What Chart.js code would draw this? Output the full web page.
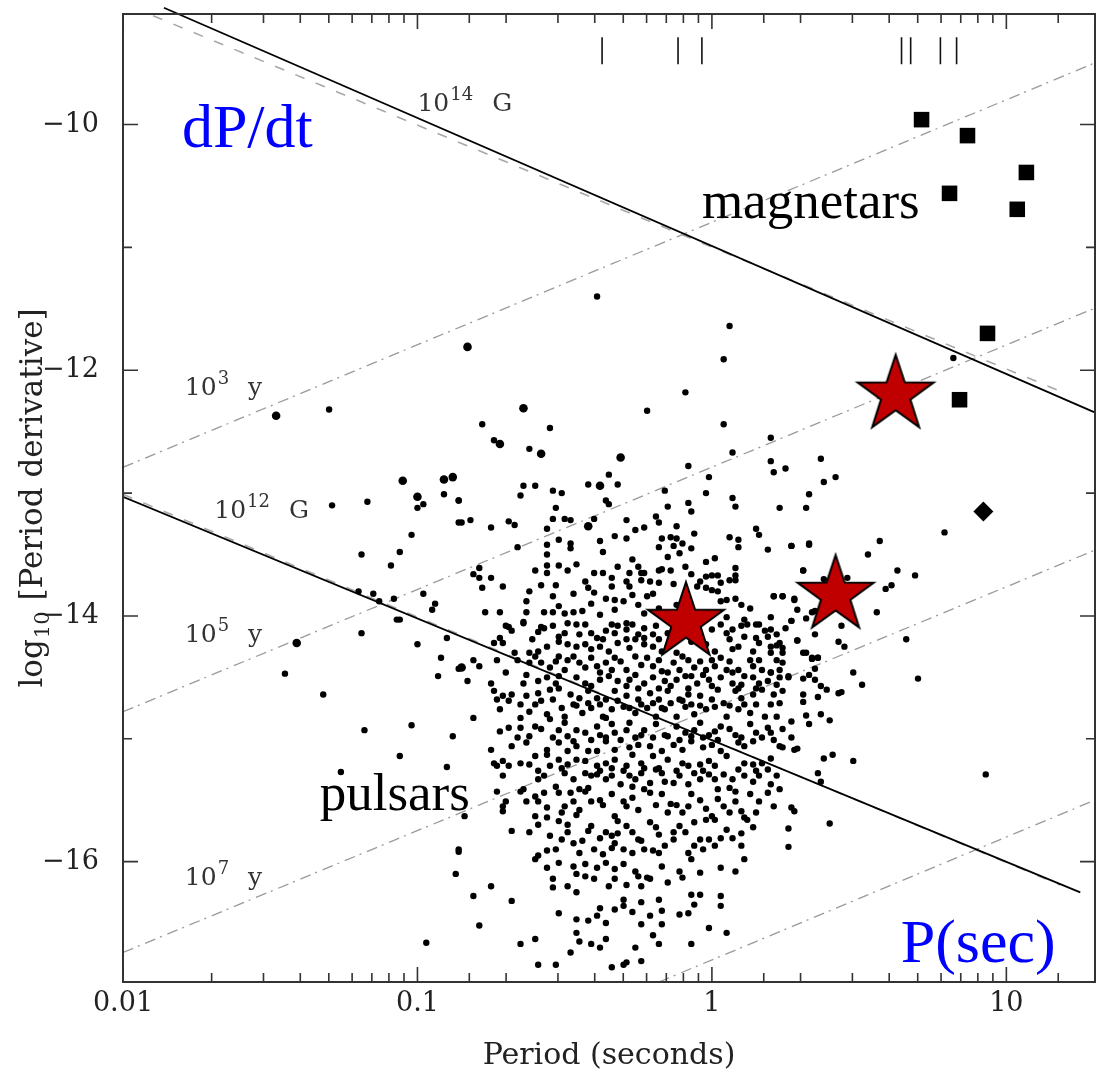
<!DOCTYPE html>
<html>
<head>
<meta charset="utf-8">
<title>P - Pdot diagram</title>
<script src="https://cdn.jsdelivr.net/npm/chart.js@4.4.1/dist/chart.umd.min.js"></script>
<style>
  html, body { margin: 0; padding: 0; background: #fff; }
  #wrap { width: 1096px; height: 1081px; }
</style>
</head>
<body>
<div id="wrap"><canvas id="ppdot" width="1096" height="1081"></canvas></div>
<script>
// ---- data: [log10 P (s), log10 Pdot] ----

// radio pulsars (small dots)
const pulsarDots = [
  [-1.30,-12.32],[-0.98,-13.09],[-1.00,-13.12],[-0.91,-13.01],[-0.86,-13.06],[-0.86,-13.24],[-1.29,-13.10],[-1.17,-13.07],
  [-1.02,-13.34],[-1.19,-13.50],[-1.06,-13.48],[-1.09,-13.59],[-1.20,-13.80],[-1.15,-13.82],[-1.13,-13.88],[-1.08,-13.86],
  [-0.98,-13.82],[-0.94,-13.90],[-0.95,-13.95],[-1.07,-14.03],[-1.06,-14.03],
  [-1.45,-14.47],[-1.32,-14.64],[-1.19,-14.14],[-1.00,-14.23],[-0.92,-14.34],[-0.93,-14.49],[-0.90,-14.18],[-0.86,-14.43],
  [-1.18,-14.93],[-1.02,-14.89],[-0.88,-14.98],[-1.06,-15.14],[-1.26,-15.27],[-0.90,-15.23],[-0.86,-15.92],[-0.87,-16.10],
  [-0.97,-16.66],
  [-0.39,-11.40],[0.06,-11.64],[0.04,-11.91],[-0.09,-12.18],[-0.22,-12.33],[0.04,-12.44],[-0.78,-12.44],[-0.55,-12.47],
  [-0.74,-12.57],[-0.62,-12.64],[0.20,-12.55],[0.07,-12.67],[-0.08,-12.78],[0.20,-12.74],[0.21,-12.83],[0.25,-12.80],
  [-0.01,-12.87],[-0.35,-12.85],[-0.42,-12.93],[-0.32,-12.93],[-0.64,-12.94],[-0.60,-12.94],[-0.65,-13.02],[-0.54,-12.98],
  [-0.51,-13.00],[-0.16,-12.98],[-0.02,-13.00],[-0.36,-13.06],[-0.35,-13.09],[-0.15,-13.11],[-0.08,-13.08],[0.07,-13.04],
  [0.08,-13.11],[0.23,-13.12],[-0.86,-13.06],[-0.53,-13.12],[-0.07,-13.15],[-0.54,-13.21],[-0.50,-13.21],[-0.48,-13.22],
  [-0.40,-13.21],[-0.29,-13.22],[-0.19,-13.19],[-0.18,-13.24],[-0.82,-13.22],[-0.85,-13.24],[-0.75,-13.28],[-0.69,-13.23],
  [-0.67,-13.26],[-0.56,-13.29],[-0.26,-13.30],[-0.23,-13.28],[-0.12,-13.27],[0.15,-13.29],[0.16,-13.34],[-0.06,-13.33],
  [0.06,-13.36],[0.09,-13.38],[0.09,-13.44],[0.19,-13.46],[-0.52,-13.38],[-0.48,-13.41],[-0.48,-13.45],[-0.38,-13.39],
  [-0.33,-13.35],[-0.29,-13.37],[-0.56,-13.42],[-0.66,-13.44],[-0.56,-13.50],[-0.37,-13.48],
  [-0.17,-13.37],[-0.14,-13.36],[-0.12,-13.37],[-0.18,-13.44],[-0.13,-13.43],[-0.10,-13.41],[-0.11,-13.49],[-0.15,-13.52],
  [-0.07,-13.45],[-0.02,-13.56],[0.01,-13.53],[-0.27,-13.54],[-0.25,-13.60],[-0.24,-13.65],[-0.24,-13.71],[-0.56,-13.59],
  [-0.56,-13.65],[-0.46,-13.58],[-0.49,-13.63],[-0.79,-13.61],[-0.81,-13.66],[-0.79,-13.69],[-0.75,-13.69],[-0.78,-13.77],
  [-0.71,-13.76],[-0.58,-13.75],[-0.53,-13.75],[-0.62,-13.80],[-0.54,-13.84],[-0.47,-13.82],[-0.43,-13.72],[-0.42,-13.77],
  [-0.40,-13.81],[-0.37,-13.65],[-0.34,-13.69],[-0.34,-13.76],[-0.36,-13.86],[-0.28,-13.65],[-0.29,-13.72],[-0.28,-13.76],
  [-0.21,-13.72],[-0.18,-13.73],[-0.20,-13.82],[-0.18,-13.63],[-0.17,-13.62],[-0.13,-13.74],[-0.07,-13.66],[-0.02,-13.68],
  [0.02,-13.67],[0.03,-13.73],[-0.05,-13.76],[-0.02,-13.77],[0.00,-13.79],[0.02,-13.80],[0.08,-13.61],[0.08,-13.67],
  [0.08,-13.71],[0.21,-13.84],[0.24,-13.84],[-0.77,-13.97],[-0.72,-13.97],[-0.63,-13.88],[-0.63,-13.97],[-0.57,-13.97],
  [-0.54,-13.97],[-0.50,-13.98],[-0.47,-13.97],[-0.44,-13.96],[-0.41,-13.90],[-0.33,-13.95],[-0.30,-13.88],[-0.33,-13.87],
  [-0.27,-13.83],[-0.25,-13.91],[-0.22,-13.84],[0.03,-13.88],[0.05,-13.87],[0.08,-13.86],[0.10,-13.91],[-0.64,-14.05],
  [-0.69,-14.09],
  [-0.60,-13.63],[-0.52,-13.59],[-0.40,-13.65],[-0.32,-13.60],[-0.23,-13.65],[-0.14,-13.63],[-0.09,-13.60],[-0.04,-13.72],
  [0.00,-13.67],[0.06,-13.71],[-0.52,-13.92],[-0.38,-13.99],[-0.29,-14.06],[-0.23,-13.98],[-0.16,-14.01],[-0.02,-13.98],
  [0.05,-14.01],[0.11,-14.03],[0.16,-14.07],[0.20,-14.01],[0.13,-13.94],[-0.58,-14.09],[-0.49,-14.06],[-0.18,-13.94],
  [-0.12,-13.91],
  [-0.70,-14.08],[-0.64,-14.06],[-0.59,-14.13],[-0.54,-14.08],[-0.52,-14.17],[-0.46,-14.07],[-0.43,-14.07],[-0.41,-14.14],
  [-0.39,-14.18],[-0.36,-14.12],[-0.33,-14.14],[-0.32,-14.08],[-0.27,-14.07],[-0.25,-14.15],[-0.23,-14.10],[-0.20,-14.15],
  [-0.18,-14.19],[-0.15,-14.14],[0.03,-14.07],[0.07,-14.11],[0.10,-14.08],[0.12,-14.07],[0.15,-14.07],[0.18,-14.12],
  [0.20,-14.11],
  [-0.68,-14.12],[-0.61,-14.19],[-0.57,-14.10],[-0.50,-14.14],[-0.45,-14.15],[-0.37,-14.19],[-0.34,-14.07],[-0.29,-14.11],
  [-0.28,-14.26],[-0.23,-14.18],[-0.19,-14.08],[-0.13,-14.07],[-0.09,-14.11],[-0.04,-14.15],[0.00,-14.11],[0.05,-14.14],
  [0.07,-14.27],[0.15,-14.18],[0.19,-14.17],[0.22,-14.15],[0.25,-14.10],
  [-0.72,-14.18],[-0.71,-14.22],[-0.74,-14.22],[-0.67,-14.30],[-0.62,-14.30],[-0.59,-14.29],[-0.56,-14.25],[-0.52,-14.21],
  [-0.49,-14.23],[-0.46,-14.25],[-0.43,-14.23],[-0.41,-14.27],[-0.38,-14.25],[-0.35,-14.29],[-0.32,-14.22],[-0.29,-14.19],
  [-0.26,-14.19],[-0.23,-14.23],[-0.20,-14.25],[-0.17,-14.29],[-0.15,-14.25],[-0.12,-14.30],[-0.07,-14.21],[-0.02,-14.23],
  [0.01,-14.29],[0.06,-14.19],[0.09,-14.25],[0.11,-14.17],[0.14,-14.29],[0.16,-14.22],[0.20,-14.25],[0.23,-14.22],
  [0.24,-14.30],
  [-0.81,-14.36],[-0.79,-14.41],[-0.83,-14.53],[-0.70,-14.46],[-0.62,-14.38],[-0.58,-14.38],[-0.55,-14.42],[-0.53,-14.37],
  [-0.50,-14.44],[-0.49,-14.36],[-0.45,-14.38],[-0.41,-14.34],[-0.39,-14.41],[-0.36,-14.38],[-0.34,-14.44],[-0.31,-14.37],
  [-0.29,-14.44],[-0.26,-14.48],[-0.24,-14.40],[-0.22,-14.34],[-0.20,-14.41],[-0.17,-14.45],[-0.13,-14.38],[-0.11,-14.44],
  [-0.08,-14.36],[-0.06,-14.42],[-0.04,-14.37],[-0.02,-14.44],[0.01,-14.41],[0.03,-14.34],[0.06,-14.37],[0.09,-14.44],
  [0.11,-14.49],[0.14,-14.41],[0.17,-14.44],[0.20,-14.46],[0.23,-14.44],[0.24,-14.38],
  [-0.60,-14.33],[-0.52,-14.33],[-0.47,-14.33],[-0.43,-14.42],[-0.38,-14.46],[-0.33,-14.34],[-0.26,-14.33],[-0.18,-14.36],
  [-0.15,-14.46],[-0.10,-14.33],[-0.07,-14.49],[-0.03,-14.48],[0.00,-14.36],[0.05,-14.44],[0.07,-14.46],[0.13,-14.36],
  [0.16,-14.36],[0.22,-14.36],[0.26,-14.49],[-0.73,-14.36],[-0.66,-14.36],[-0.63,-14.48],[-0.52,-14.49],[-0.41,-14.57],
  [-0.29,-14.57],[-0.25,-14.59],[-0.18,-14.59],[-0.14,-14.57],[-0.08,-14.59],[0.00,-14.57],[0.09,-14.59],[0.15,-14.59],
  [-0.75,-14.55],[-0.64,-14.55],[-0.59,-14.53],[-0.56,-14.50],[-0.53,-14.55],[-0.46,-14.50],[-0.43,-14.55],[-0.38,-14.52],
  [-0.35,-14.49],[-0.32,-14.53],[-0.28,-14.52],[-0.23,-14.55],[-0.20,-14.50],[-0.16,-14.53],[-0.12,-14.52],[-0.09,-14.49],
  [-0.05,-14.55],[-0.01,-14.52],[0.03,-14.50],[0.07,-14.55],[0.10,-14.56],[0.14,-14.50],[0.16,-14.55],[0.19,-14.53],
  [0.22,-14.56],
  [-0.74,-14.61],[-0.71,-14.65],[-0.68,-14.64],[-0.63,-14.65],[-0.59,-14.63],[-0.55,-14.60],[-0.52,-14.59],[-0.48,-14.64],
  [-0.45,-14.67],[-0.42,-14.61],[-0.39,-14.67],[-0.36,-14.68],[-0.33,-14.61],[-0.29,-14.65],[-0.25,-14.68],[-0.21,-14.63],
  [-0.18,-14.68],[-0.15,-14.61],[-0.11,-14.68],[-0.08,-14.64],[-0.04,-14.65],[0.00,-14.68],[0.02,-14.60],[0.08,-14.61],
  [0.10,-14.67],[0.14,-14.64],[0.17,-14.60],[0.21,-14.64],[0.24,-14.61],
  [-0.73,-14.68],[-0.65,-14.72],[-0.62,-14.78],[-0.58,-14.69],[-0.54,-14.68],[-0.50,-14.82],[-0.46,-14.73],[-0.42,-14.71],
  [-0.38,-14.72],[-0.36,-14.83],[-0.32,-14.69],[-0.28,-14.75],[-0.24,-14.72],[-0.20,-14.71],[-0.17,-14.75],[-0.14,-14.71],
  [-0.10,-14.69],[-0.07,-14.72],[-0.04,-14.73],[0.04,-14.71],[0.06,-14.73],[0.11,-14.72],[0.15,-14.72],[0.20,-14.72],
  [0.23,-14.71],
  [-0.81,-14.83],[-0.72,-14.76],[-0.69,-14.69],[-0.65,-14.83],[-0.60,-14.72],[-0.56,-14.80],[-0.55,-14.84],[-0.51,-14.75],
  [-0.47,-14.72],[-0.44,-14.79],[-0.41,-14.75],[-0.37,-14.82],[-0.34,-14.76],[-0.30,-14.74],[-0.26,-14.79],[-0.22,-14.75],
  [-0.19,-14.82],[-0.16,-14.76],[-0.12,-14.82],[-0.09,-14.74],[-0.06,-14.80],[-0.02,-14.76],[0.01,-14.74],[0.05,-14.82],
  [0.09,-14.76],[0.13,-14.79],[0.18,-14.82],[0.22,-14.82],
  [-0.65,-14.91],[-0.62,-14.98],[-0.60,-14.90],[-0.52,-14.93],[-0.49,-14.98],[-0.46,-14.93],[-0.43,-14.95],[-0.39,-14.90],
  [-0.36,-14.99],[-0.33,-14.95],[-0.29,-14.93],[-0.26,-14.99],[-0.23,-14.93],[-0.19,-14.88],[-0.16,-14.97],[-0.12,-14.90],
  [-0.09,-14.95],[-0.06,-14.93],[-0.03,-14.99],[0.01,-14.94],[0.03,-14.90],[0.08,-14.97],[0.13,-14.88],[0.15,-14.95],
  [0.19,-14.91],[0.23,-15.06],
  [-0.72,-14.94],[-0.69,-14.91],[-0.63,-15.03],[-0.58,-14.92],[-0.54,-14.99],[-0.50,-14.87],[-0.47,-15.02],[-0.41,-15.01],
  [-0.38,-14.97],[-0.34,-14.88],[-0.31,-15.01],[-0.28,-14.87],[-0.24,-14.97],[-0.20,-14.99],[-0.15,-14.98],[-0.11,-15.01],
  [-0.07,-14.98],[-0.04,-14.87],[-0.01,-14.97],[0.02,-15.01],[0.06,-14.92],[0.10,-14.99],[0.14,-15.02],[0.17,-14.99],
  [0.20,-14.95],[0.24,-14.92],
  [-0.75,-15.09],[-0.74,-15.20],[-0.71,-15.18],[-0.68,-15.06],[-0.66,-14.99],[-0.56,-15.09],[-0.52,-15.03],[-0.49,-15.10],
  [-0.46,-15.06],[-0.42,-15.10],[-0.39,-15.10],[-0.36,-15.02],[-0.33,-15.09],[-0.28,-15.07],[-0.25,-15.05],[-0.21,-15.06],
  [-0.17,-15.10],[-0.13,-15.05],[-0.10,-15.09],[-0.07,-15.02],[-0.03,-15.07],[0.00,-15.05],[0.03,-15.10],[0.09,-15.03],
  [0.11,-15.06],[0.21,-15.01],[0.24,-15.07],
  [-0.65,-15.20],[-0.62,-15.21],[-0.60,-15.14],[-0.56,-15.13],[-0.52,-15.17],[-0.49,-15.21],[-0.46,-15.17],[-0.43,-15.18],
  [-0.39,-15.22],[-0.36,-15.20],[-0.33,-15.17],[-0.29,-15.22],[-0.27,-15.13],[-0.24,-15.20],[-0.20,-15.14],[-0.18,-15.24],
  [-0.15,-15.17],[-0.08,-15.22],[-0.04,-15.21],[-0.01,-15.18],[0.01,-15.22],[0.05,-15.14],[0.09,-15.25],[0.14,-15.21],
  [0.17,-15.20],[0.20,-15.16],
  [-0.73,-15.22],[-0.69,-15.22],[-0.59,-15.26],[-0.55,-15.22],[-0.51,-15.24],[-0.47,-15.33],[-0.43,-15.28],[-0.41,-15.30],
  [-0.38,-15.26],[-0.34,-15.24],[-0.30,-15.26],[-0.26,-15.33],[-0.23,-15.24],[-0.17,-15.28],[-0.12,-15.26],[-0.10,-15.20],
  [-0.06,-15.28],[-0.03,-15.26],[0.01,-15.33],[0.04,-15.29],[0.07,-15.33],[0.11,-15.20],[0.15,-15.26],[0.19,-15.25],
  [0.22,-15.30],
  [-0.71,-15.30],[-0.65,-15.43],[-0.64,-15.41],[-0.59,-15.33],[-0.57,-15.30],[-0.53,-15.39],[-0.50,-15.28],[-0.45,-15.41],
  [-0.42,-15.40],[-0.39,-15.29],[-0.36,-15.33],[-0.34,-15.30],[-0.31,-15.37],[-0.28,-15.30],[-0.27,-15.39],[-0.24,-15.28],
  [-0.21,-15.36],[-0.19,-15.25],[-0.16,-15.35],[-0.13,-15.36],[-0.11,-15.30],[-0.08,-15.37],[-0.04,-15.33],[-0.01,-15.29],
  [0.02,-15.41],[0.06,-15.40],[0.08,-15.43],[0.11,-15.30],[0.14,-15.35],[0.16,-15.30],[0.20,-15.37],
  [-0.84,-15.63],[-0.71,-15.55],[-0.70,-15.51],[-0.60,-15.47],[-0.59,-15.51],[-0.56,-15.56],[-0.52,-15.44],[-0.50,-15.55],
  [-0.47,-15.51],[-0.43,-15.43],[-0.38,-15.50],[-0.37,-15.54],[-0.33,-15.63],[-0.32,-15.67],[-0.29,-15.55],[-0.27,-15.48],
  [-0.25,-15.58],[-0.21,-15.44],[-0.19,-15.54],[-0.15,-15.60],[-0.12,-15.54],[-0.08,-15.55],[-0.04,-15.50],[0.00,-15.63],
  [0.06,-15.60],[0.11,-15.64],[0.13,-15.45],[0.16,-15.51],[0.21,-15.55],
  [-0.73,-15.43],[-0.63,-15.51],[-0.57,-15.44],[-0.51,-15.60],[-0.48,-15.44],[-0.45,-15.58],[-0.41,-15.51],[-0.34,-15.45],
  [-0.30,-15.51],[-0.23,-15.41],[-0.17,-15.45],[-0.14,-15.53],[-0.10,-15.60],[-0.07,-15.45],[-0.02,-15.57],[0.02,-15.49],
  [0.04,-15.55],[0.08,-15.51],[0.10,-15.59],[0.15,-15.60],[0.19,-15.44],[0.23,-15.41],
  [-0.71,-15.59],[-0.68,-15.75],[-0.60,-15.63],[-0.59,-15.70],[-0.56,-15.64],[-0.52,-15.67],[-0.49,-15.70],[-0.46,-15.62],
  [-0.42,-15.75],[-0.38,-15.81],[-0.34,-15.79],[-0.32,-15.77],[-0.29,-15.71],[-0.25,-15.82],[-0.21,-15.68],[-0.18,-15.78],
  [-0.13,-15.76],[-0.11,-15.71],[-0.06,-15.68],[-0.02,-15.66],[0.01,-15.66],[0.05,-15.74],[0.10,-15.77],[0.12,-15.66],
  [-0.62,-15.76],[-0.55,-15.79],[-0.49,-15.76],[-0.44,-15.83],[-0.41,-15.71],[-0.36,-15.76],[-0.33,-15.85],[-0.27,-15.76],
  [-0.23,-15.90],[-0.19,-15.72],[-0.16,-15.87],[-0.09,-15.76],[-0.03,-15.90],[0.01,-15.87],[0.07,-15.81],[0.14,-15.72],
  [-0.86,-15.90],[-0.60,-15.98],[-0.59,-15.95],[-0.56,-15.91],[-0.53,-15.90],[-0.51,-15.82],[-0.47,-15.85],[-0.45,-15.93],
  [-0.40,-15.90],[-0.37,-15.94],[-0.34,-15.89],[-0.30,-15.90],[-0.27,-15.93],[-0.24,-15.83],[-0.20,-15.91],[-0.18,-15.93],
  [-0.13,-15.82],[-0.08,-15.93],[-0.06,-15.87],[-0.04,-15.82],[-0.01,-15.82],[0.03,-15.81],[0.10,-15.87],[0.11,-15.98],
  [-0.54,-16.14],[-0.52,-16.01],[-0.47,-16.04],[-0.46,-16.10],[-0.43,-16.02],[-0.39,-16.05],[-0.36,-16.01],[-0.33,-16.06],
  [-0.30,-16.02],[-0.26,-16.08],[-0.22,-16.13],[-0.17,-16.04],[-0.11,-16.08],[-0.10,-16.13],[-0.07,-15.98],
  [-0.56,-16.05],[-0.43,-16.12],[-0.33,-16.14],[-0.24,-16.20],[-0.15,-16.17],[-0.04,-16.09],
  [-0.75,-16.20],[-0.81,-16.28],[-0.54,-16.21],[-0.49,-16.20],[-0.46,-16.25],[-0.40,-16.14],[-0.35,-16.20],[-0.29,-16.19],
  [-0.25,-16.12],[-0.21,-16.14],[-0.07,-16.27],[0.03,-16.05],[0.08,-16.08],[0.03,-16.28],[0.03,-16.36],
  [-0.68,-16.32],[-0.46,-16.47],[-0.42,-16.48],[-0.39,-16.44],[-0.38,-16.38],[-0.36,-16.50],[-0.30,-16.31],[-0.30,-16.36],
  [-0.27,-16.41],[-0.24,-16.33],[-0.21,-16.44],[-0.17,-16.40],[-0.17,-16.51],[-0.11,-16.43],[-0.06,-16.35],[-0.04,-16.27],
  [-0.52,-16.42],[-0.33,-16.39],[-0.18,-16.31],[-0.08,-16.42],
  [-0.79,-16.52],[-0.65,-16.67],[-0.48,-16.74],[-0.46,-16.58],[-0.45,-16.65],[-0.41,-16.67],[-0.36,-16.63],[-0.30,-16.84],
  [-0.29,-16.82],[-0.26,-16.70],[-0.24,-16.51],[-0.24,-16.81],[-0.18,-16.67],[-0.07,-16.67],[0.05,-16.58],[-0.59,-16.84],
  [-0.53,-16.84],[-0.34,-16.86],[-0.60,-16.63],[-0.38,-16.70],[-0.20,-16.60],[-0.01,-16.54],
  [0.82,-11.90],[0.37,-12.72],[0.38,-12.91],[0.42,-12.87],[0.33,-13.01],[0.32,-13.12],[0.27,-13.43],[0.33,-13.42],
  [0.57,-13.39],[0.53,-13.50],[0.79,-13.32],[0.31,-13.63],[0.38,-13.70],[0.46,-13.69],[0.63,-13.63],[0.69,-13.67],
  [0.59,-13.78],[0.61,-13.75],[0.28,-13.87],[0.29,-13.95],[0.32,-14.02],[0.35,-13.96],[0.27,-14.04],[0.44,-14.08],
  [0.56,-13.97],
  [0.29,-14.20],[0.35,-14.15],[0.43,-14.21],[0.45,-14.25],[0.66,-14.19],[0.31,-14.30],[0.34,-14.35],[0.36,-14.34],
  [0.35,-14.43],[0.31,-14.51],[0.33,-14.48],[0.35,-14.52],[0.37,-14.57],[0.39,-14.60],[0.48,-14.46],[0.51,-14.56],
  [0.70,-14.51],[0.26,-14.50],[0.31,-14.64],[0.31,-14.70],[0.36,-14.66],[0.43,-14.63],[0.44,-14.62],[0.32,-14.81],
  [0.37,-14.80],[0.40,-14.85],[0.33,-14.88],[0.27,-14.86],[0.27,-14.99],[0.28,-15.09],[0.29,-15.08],[0.38,-15.16],
  [0.41,-15.13],[0.48,-15.18],[0.36,-15.28],[0.37,-15.35],[0.93,-15.29],[0.27,-15.56],[0.28,-15.59],[0.40,-15.69],
  [0.26,-15.73],[0.26,-15.88],
  [0.27,-13.43],[0.33,-13.41],[0.31,-13.63],[0.21,-13.84],[0.24,-13.84],[0.28,-13.86],[0.34,-13.97],[0.27,-14.04],
  [0.29,-14.20],[0.32,-14.30],[0.34,-14.34],[0.36,-14.34],[0.22,-14.24],[0.24,-14.26],[0.20,-14.30],[0.20,-14.46],
  [0.23,-14.50]
];

// young / associated pulsars (larger dots)
const youngPulsarDots = [
  [-1.48,-12.37],[-1.05,-12.90],[-1.00,-13.03],[-0.91,-12.89],[-0.88,-12.87],[-1.41,-14.22],
  [-0.83,-11.81],[-0.64,-12.31],[-0.72,-12.60],[-0.58,-12.68],[-0.31,-12.71],[-0.38,-12.94],[-0.42,-13.27],
  [-0.85,-14.42]
];

// magnetars (filled squares) and the single diamond
const magnetarLogP    = [0.712, 0.868, 1.068, 0.807, 1.037, 0.936, 0.841];
const magnetarLogPdot = [-9.96, -10.09, -10.39, -10.56, -10.69, -11.70, -12.24];
const diamondLogP     = [0.922];
const diamondLogPdot  = [-13.15];

// highlighted objects (red stars)
const starLogP    = [0.624, 0.420, -0.088];
const starLogPdot = [-12.20, -13.83, -14.05];

// short period markers along the top edge
const markerLogP = [-0.373, -0.115, -0.034, 0.644, 0.675, 0.776, 0.831];
const markerSpan = [-9.29, -9.51];

// constant magnetic field lines, endpoints
const field14G      = [[-1.861, -9.049], [1.298, -12.341]];
const field14Gguide = [[-1.898, -9.114], [1.183, -12.171]];
const field12G      = [[-2.000, -13.030], [1.251, -16.250]];
const field12Gguide = [[-2.000, -13.010], [1.183, -16.190]];

// constant characteristic age lines, endpoints
const age3  = [[-2.000, -12.790], [1.295, -9.504]];
const age5  = [[-2.000, -14.780], [1.295, -11.500]];
const age7  = [[-2.000, -16.740], [1.295, -13.470]];
const age9  = [[-0.180, -16.980], [1.295, -15.505]];

const periodTickLabels = ['0.01', '0.1', '1', '10'];

// ---- helpers ----
const toXY = pairs => pairs.map(([lp, lpd]) => ({ x: Math.pow(10, lp), y: lpd }));
const zipXY = (lps, lpds) => lps.map((lp, i) => ({ x: Math.pow(10, lp), y: lpds[i] }));

function makeStar(outer, inner, fill, stroke, lw) {
  const size = Math.ceil(2 * outer + 2 * lw + 4);
  const c = document.createElement('canvas');
  c.width = c.height = size;
  const g = c.getContext('2d');
  const cx = size / 2, cy = size / 2;
  g.beginPath();
  for (let k = 0; k < 10; k++) {
    const r = k % 2 ? inner : outer;
    const a = -Math.PI / 2 + k * Math.PI / 5;
    g.lineTo(cx + r * Math.cos(a), cy + r * Math.sin(a));
  }
  g.closePath();
  g.fillStyle = fill;
  g.fill();
  g.lineWidth = lw;
  g.lineJoin = 'miter';
  g.strokeStyle = stroke;
  g.stroke();
  return c;
}

const markerPoints = [];
markerLogP.forEach(lp => {
  const x = Math.pow(10, lp);
  markerPoints.push({ x: x, y: markerSpan[0] }, { x: x, y: markerSpan[1] }, { x: x, y: null });
});

function lineSet(points, color, width, dash, extra) {
  return Object.assign({
    data: toXY(points),
    showLine: true,
    borderColor: color,
    borderWidth: width,
    borderDash: dash,
    pointRadius: 0,
    fill: false
  }, extra || {});
}

const fieldColor = '#000';
const guideColor = '#a8a8a8';
const ageColor = '#9a9a9a';
const ageDash = [11, 5, 2, 6];

// ---- text drawn on the plot, anchored in data units ----
const plainLabels = [
  { text: 'dP/dt',     lp: -1.80,  lpd: -10.18, font: '62px "Liberation Serif"', color: '#0000ff' },
  { text: 'P(sec)',    lp: 0.641,  lpd: -16.82, font: '62px "Liberation Serif"', color: '#0000ff' },
  { text: 'magnetars', lp: -0.034, lpd: -10.76, font: '53px "Liberation Serif"', color: '#000' },
  { text: 'pulsars',   lp: -1.332, lpd: -15.58, font: '53px "Liberation Serif"', color: '#000' }
];
const lineLabels = [
  { base: '10', sup: '14', tail: 'G', lp: -1.00, lpd: -9.886 },
  { base: '10', sup: '3',  tail: 'y', lp: -1.79, lpd: -12.20 },
  { base: '10', sup: '12', tail: 'G', lp: -1.69, lpd: -13.20 },
  { base: '10', sup: '5',  tail: 'y', lp: -1.79, lpd: -14.21 },
  { base: '10', sup: '7',  tail: 'y', lp: -1.79, lpd: -16.19 }
];

const axisFont = '"DejaVu Serif"';
const inkColor = '#222';

// frame, inward ticks, axis titles and labels
const decorPlugin = {
  id: 'decor',
  afterDatasetsDraw(chart) {
    const { ctx, chartArea: a, scales: { x, y } } = chart;
    ctx.save();

    // frame
    ctx.strokeStyle = '#333';
    ctx.lineWidth = 2;
    ctx.strokeRect(a.left, a.top, a.right - a.left, a.bottom - a.top);

    // period ticks, top and bottom
    ctx.lineWidth = 1.6;
    x.ticks.forEach(t => {
      const lg = Math.log10(t.value);
      const major = Math.abs(lg - Math.round(lg)) < 1e-6;
      const len = major ? 15 : 9;
      const px = x.getPixelForValue(t.value);
      if (px < a.left - 0.5 || px > a.right + 0.5) return;
      ctx.beginPath();
      ctx.moveTo(px, a.bottom); ctx.lineTo(px, a.bottom - len);
      ctx.moveTo(px, a.top);    ctx.lineTo(px, a.top + len);
      ctx.stroke();
    });
    // pdot ticks, left and right
    y.ticks.forEach(t => {
      if (!Number.isInteger(t.value)) return;
      const len = t.value % 2 === 0 ? 15 : 9;
      const py = y.getPixelForValue(t.value);
      ctx.beginPath();
      ctx.moveTo(a.left, py);  ctx.lineTo(a.left + len, py);
      ctx.moveTo(a.right, py); ctx.lineTo(a.right - len, py);
      ctx.stroke();
    });

    // x title
    ctx.fillStyle = inkColor;
    ctx.font = '30px ' + axisFont;
    ctx.textAlign = 'center';
    ctx.textBaseline = 'alphabetic';
    ctx.fillText('Period (seconds)', (a.left + a.right) / 2, 1064);

    // y title, rotated, with subscript
    const mainFont = '31px ' + axisFont;
    const subFont = '21px ' + axisFont;
    ctx.font = mainFont;
    const wLog = ctx.measureText('log').width;
    const wRest = ctx.measureText(' [Period derivative]').width;
    ctx.font = subFont;
    const wSub = ctx.measureText('10').width;
    const total = wLog + wSub + 2 + wRest;
    ctx.save();
    ctx.translate(42, (a.top + a.bottom) / 2 + total / 2);
    ctx.rotate(-Math.PI / 2);
    ctx.textAlign = 'left';
    ctx.font = mainFont;
    ctx.fillText('log', 0, 0);
    ctx.font = subFont;
    ctx.fillText('10', wLog + 1, 7);
    ctx.font = mainFont;
    ctx.fillText(' [Period derivative]', wLog + wSub + 2, 0);
    ctx.restore();

    // plain labels
    ctx.textAlign = 'left';
    plainLabels.forEach(l => {
      ctx.font = l.font;
      ctx.fillStyle = l.color;
      ctx.fillText(l.text, x.getPixelForValue(Math.pow(10, l.lp)), y.getPixelForValue(l.lpd));
    });

    // field and age line labels: 10^n G / 10^n y
    ctx.fillStyle = '#333';
    lineLabels.forEach(l => {
      let px = x.getPixelForValue(Math.pow(10, l.lp));
      const py = y.getPixelForValue(l.lpd);
      ctx.font = '25px ' + axisFont;
      ctx.fillText(l.base, px, py);
      px += ctx.measureText(l.base).width + 1;
      ctx.font = '18px ' + axisFont;
      ctx.fillText(l.sup, px, py - 11);
      px += ctx.measureText(l.sup).width + 19;
      ctx.font = '25px ' + axisFont;
      ctx.fillText(l.tail, px, py);
    });

    ctx.restore();
  }
};

const starImage = makeStar(40, 15.5, '#c00000', '#000', 2);

new Chart(document.getElementById('ppdot'), {
  type: 'scatter',
  data: {
    datasets: [
      { data: zipXY(starLogP, starLogPdot), pointStyle: starImage, pointRadius: 40 },
      { data: zipXY(magnetarLogP, magnetarLogPdot), pointStyle: 'rect', pointRadius: 11,
        backgroundColor: '#000', pointBorderWidth: 0 },
      { data: zipXY(diamondLogP, diamondLogPdot), pointStyle: 'rectRot', pointRadius: 10,
        backgroundColor: '#000', pointBorderWidth: 0 },
      { data: toXY(youngPulsarDots), pointRadius: 4.3, backgroundColor: '#000', pointBorderWidth: 0 },
      { data: toXY(pulsarDots), pointRadius: 3.2, backgroundColor: '#000', pointBorderWidth: 0 },
      { data: markerPoints, showLine: true, spanGaps: false, borderColor: '#111', borderWidth: 1.6, pointRadius: 0 },
      lineSet(field14G, fieldColor, 1.8, [], { clip: false }),
      lineSet(field12G, fieldColor, 1.8, []),
      lineSet(field14Gguide, guideColor, 1.6, [10, 12]),
      lineSet(field12Gguide, guideColor, 1.6, [10, 12]),
      lineSet(age3, ageColor, 1.3, ageDash),
      lineSet(age5, ageColor, 1.3, ageDash),
      lineSet(age7, ageColor, 1.3, ageDash),
      lineSet(age9, ageColor, 1.3, ageDash)
    ]
  },
  options: {
    responsive: false,
    animation: false,
    devicePixelRatio: 1,
    events: [],
    layout: { autoPadding: false, padding: { top: 14, right: 1, left: 0, bottom: 0 } },
    plugins: { legend: { display: false }, tooltip: { enabled: false } },
    scales: {
      x: {
        type: 'logarithmic',
        min: 0.01,
        max: 20,
        grid: { display: false, drawTicks: false },
        border: { display: false },
        ticks: {
          autoSkip: false,
          maxRotation: 0,
          padding: 6,
          color: inkColor,
          font: { family: 'DejaVu Serif', size: 27 },
          callback: v => {
            const lg = Math.log10(v);
            const n = Math.round(lg);
            return Math.abs(lg - n) < 1e-6 ? periodTickLabels[n + 2] : '';
          }
        },
        afterFit: s => {
          s.height = 99;
          s.paddingLeft = 0;
          s.paddingRight = 0;
        }
      },
      y: {
        type: 'linear',
        min: -16.98,
        max: -9.1,
        grid: { display: false, drawTicks: false },
        border: { display: false },
        ticks: {
          stepSize: 1,
          includeBounds: false,
          padding: 24,
          color: inkColor,
          font: { family: 'DejaVu Serif', size: 27 },
          callback: v => (Number.isInteger(v) && v % 2 === 0) ? '\u2212' + Math.abs(v) : ''
        },
        afterFit: s => {
          s.width = 123;
          s.paddingTop = 0;
          s.paddingBottom = 0;
        }
      }
    }
  },
  plugins: [decorPlugin]
});
</script>
</body>
</html>
